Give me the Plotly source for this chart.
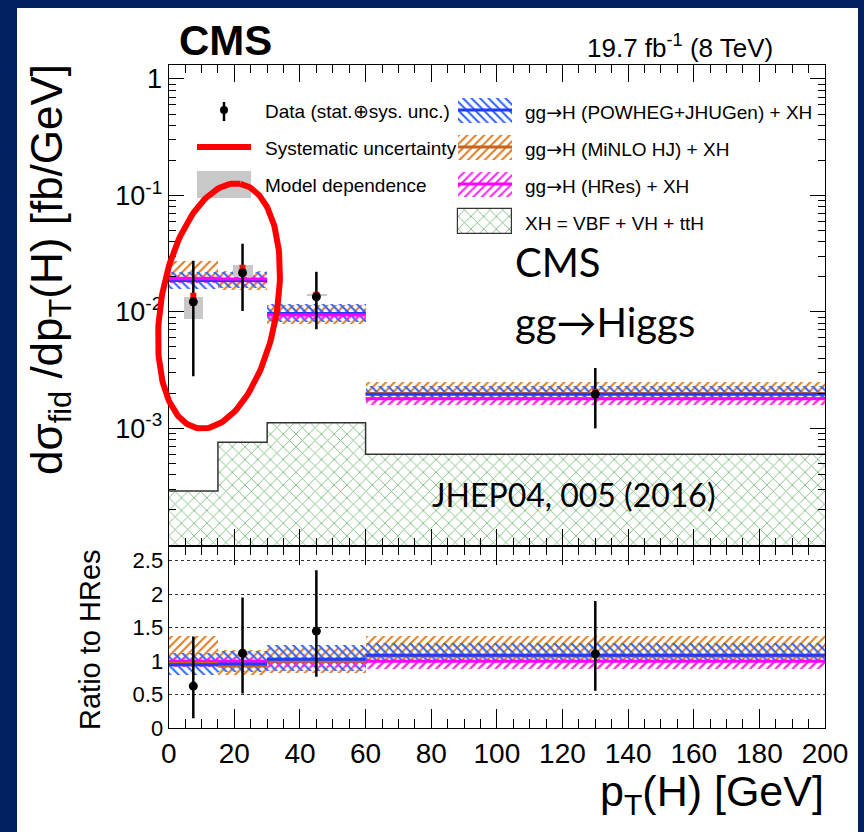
import numpy as np
import plotly.graph_objects as go

W, H = 864, 832

# ---------------- data ----------------
bin_edges = [0, 15, 30, 60, 200]

data_x = [7.5, 22.5, 45, 130]
data_y = [0.0122, 0.0217, 0.0135, 0.00196]
data_hi = [0.0275, 0.0385, 0.0221, 0.0033]
data_lo = [0.0028, 0.0102, 0.0071, 0.0010]
sys_hi = [0.0146, 0.0254, 0.0149, 0.00218]
sys_lo = [0.0113, 0.0209, 0.0132, 0.00201]
model_hi = [0.0135, 0.0254, 0.0143, 0.00205]
model_lo = [0.0087, 0.0200, 0.0138, 0.00190]
model_width = 6

powheg_c = [0.0186, 0.0186, 0.0097, 0.00196]
powheg_lo = [0.0158, 0.0160, 0.0082, 0.00175]
powheg_hi = [0.0221, 0.0222, 0.0118, 0.00231]
minlo_c = [0.0195, 0.0185, 0.0095, 0.00199]
minlo_lo = [0.0178, 0.0155, 0.0078, 0.00165]
minlo_hi = [0.0275, 0.0225, 0.0115, 0.00250]
hres_c = [0.0193, 0.0192, 0.0094, 0.00180]
hres_lo = [0.0178, 0.0177, 0.0086, 0.00158]
hres_hi = [0.0205, 0.0204, 0.0100, 0.00187]
xh_vals = [2.9e-4, 7.6e-4, 1.12e-3, 6.0e-4]

ratio_y = [0.63, 1.12, 1.45, 1.11]
ratio_hi = [1.37, 1.95, 2.36, 1.90]
ratio_lo = [0.15, 0.52, 0.77, 0.56]
r_powheg_c = [0.95, 0.96, 1.03, 1.09]
r_powheg_lo = [0.80, 0.84, 0.86, 1.00]
r_powheg_hi = [1.13, 1.15, 1.24, 1.27]
r_minlo_c = [0.97, 0.93, 1.00, 1.08]
r_minlo_lo = [0.92, 0.80, 0.82, 0.91]
r_minlo_hi = [1.38, 1.17, 1.20, 1.38]
r_hres_c = [1.0, 1.0, 1.0, 1.0]
r_hres_lo = [0.92, 0.92, 0.91, 0.88]
r_hres_hi = [1.06, 1.06, 1.06, 1.04]

top_tickvals = [1e-3, 1e-2, 1e-1, 1]
top_ticktext = ["10<sup>-3</sup>", "10<sup>-2</sup>", "10<sup>-1</sup>", "1"]
low_tickvals = [0, 0.5, 1, 1.5, 2, 2.5]
low_ticktext = ["0", "0.5", "1", "1.5", "2", "2.5"]
x_tickvals = [0, 20, 40, 60, 80, 100, 120, 140, 160, 180, 200]
x_ticktext = ["0", "20", "40", "60", "80", "100", "120", "140", "160", "180", "200"]

ARROW = "<span style='font-family:DejaVu Sans'>\u2192</span>"
legend_col1 = ["Data (stat.\u2295sys. unc.)", "Systematic uncertainty", "Model dependence"]
legend_col2 = ["gg" + ARROW + "H (POWHEG+JHUGen) + XH", "gg" + ARROW + "H (MiNLO HJ) + XH",
               "gg" + ARROW + "H (HRes) + XH", "XH = VBF + VH + ttH"]

# ---------------- styles ----------------
FONT = "Liberation Sans, Arial, Helvetica, sans-serif"
SLIDE_FONT = "Lato, Open Sans, sans-serif"
NAVY = "#002060"
BLUE_H, BLUE_L = "#2f5fff", "#1f3cff"
ORANGE_H, ORANGE_L = "#de7a1e", "#c8641e"
MAG_H, MAG_L = "#ff20ff", "#ff00ff"
GREEN_H = "#74b874"
GRAY = "#c8c8c8"

PLOT_L, PLOT_R = 168.7, 825.0
TOP_T, TOP_B = 65.0, 546.0
LOW_T, LOW_B = 546.0, 728.3
XDOM = [PLOT_L / W, PLOT_R / W]
TOPDOM = [1 - TOP_B / H, 1 - TOP_T / H]
LOWDOM = [1 - LOW_B / H, 1 - LOW_T / H]
TOP_RANGE = [-4.01, 0.12]
LOW_RANGE = [0, 2.72]
XH_BASE = 1e-6

lo_e = np.array(bin_edges[:-1], float)
hi_e = np.array(bin_edges[1:], float)
centers = (lo_e + hi_e) / 2
widths = hi_e - lo_e


def hatch(shape, color, size=6, sol=0.33):
    return dict(shape=shape, fgcolor=color, bgcolor="rgba(0,0,0,0)",
                size=size, solidity=sol, fillmode="replace")


def band(lo, hi, shape, color, xa, ya):
    lo = np.array(lo, float)
    hi = np.array(hi, float)
    return go.Bar(x=centers, y=hi - lo, base=lo, width=widths, xaxis=xa, yaxis=ya,
                  marker=dict(color="rgba(0,0,0,0)", line=dict(width=0),
                              pattern=hatch(shape, color)),
                  hoverinfo="skip")


def hsegs(vals, color, xa, ya, w=3):
    xs, ys = [], []
    for a, b, v in zip(lo_e, hi_e, vals):
        xs += [a, b, None]
        ys += [v, v, None]
    return go.Scatter(x=xs, y=ys, mode="lines", line=dict(color=color, width=w),
                      xaxis=xa, yaxis=ya, hoverinfo="skip")


def vsegs(xv, lo, hi, color, w, xa, ya):
    xs, ys = [], []
    for x, a, b in zip(xv, lo, hi):
        xs += [x, x, None]
        ys += [a, b, None]
    return go.Scatter(x=xs, y=ys, mode="lines", line=dict(color=color, width=w),
                      xaxis=xa, yaxis=ya, hoverinfo="skip")


fig = go.Figure()

# ---------------- top panel ----------------
fig.add_trace(go.Bar(x=centers, y=np.array(xh_vals) - XH_BASE, base=XH_BASE, width=widths,
                     xaxis="x", yaxis="y",
                     marker=dict(color="rgba(0,0,0,0)", line=dict(width=0),
                                 pattern=hatch("x", GREEN_H, size=9, sol=0.18))))
fig.add_trace(band(minlo_lo, minlo_hi, "/", ORANGE_H, "x", "y"))
fig.add_trace(band(powheg_lo, powheg_hi, "\\", BLUE_H, "x", "y"))
fig.add_trace(band(hres_lo, hres_hi, "/", MAG_H, "x", "y"))
fig.add_trace(go.Bar(x=data_x, y=np.array(model_hi) - np.array(model_lo), base=model_lo,
                     width=model_width, xaxis="x", yaxis="y",
                     marker=dict(color=GRAY, line=dict(width=0))))
fig.add_trace(go.Scatter(x=bin_edges, y=xh_vals + [xh_vals[-1]], mode="lines",
                         line=dict(color="#333333", width=1.5, shape="hv"),
                         xaxis="x", yaxis="y"))
fig.add_trace(hsegs(minlo_c, ORANGE_L, "x", "y"))
fig.add_trace(hsegs(powheg_c, BLUE_L, "x", "y"))
fig.add_trace(hsegs(hres_c, MAG_L, "x", "y"))
fig.add_trace(vsegs(data_x, data_lo, data_hi, "black", 2.5, "x", "y"))
fig.add_trace(vsegs(data_x, sys_lo, sys_hi, "#ff0000", 6, "x", "y"))
fig.add_trace(go.Scatter(x=data_x, y=data_y, mode="markers",
                         marker=dict(color="black", size=9), xaxis="x", yaxis="y"))

# ---------------- ratio panel ----------------
fig.add_trace(band(r_minlo_lo, r_minlo_hi, "/", ORANGE_H, "x2", "y2"))
fig.add_trace(band(r_powheg_lo, r_powheg_hi, "\\", BLUE_H, "x2", "y2"))
fig.add_trace(band(r_hres_lo, r_hres_hi, "/", MAG_H, "x2", "y2"))
fig.add_trace(hsegs(r_hres_c, MAG_L, "x2", "y2"))
fig.add_trace(hsegs(r_minlo_c, ORANGE_L, "x2", "y2"))
fig.add_trace(hsegs(r_powheg_c, BLUE_L, "x2", "y2"))
fig.add_trace(vsegs(data_x, ratio_lo, ratio_hi, "black", 2.5, "x2", "y2"))
fig.add_trace(go.Scatter(x=data_x, y=ratio_y, mode="markers",
                         marker=dict(color="black", size=9), xaxis="x2", yaxis="y2"))

# ---------------- legend (pixel-space overlay axes) ----------------
rows = [110, 147, 184, 221]
SW_X0, SW_X1 = 458, 512
C1_X0, C1_X1 = 197, 251
fig.add_trace(go.Scatter(x=[224, 224], y=[102, 121], mode="lines",
                         line=dict(color="black", width=2.5), xaxis="x3", yaxis="y3"))
fig.add_trace(go.Scatter(x=[224], y=[110], mode="markers",
                         marker=dict(color="black", size=8), xaxis="x3", yaxis="y3"))
fig.add_trace(go.Scatter(x=[C1_X0, C1_X1], y=[rows[1], rows[1]], mode="lines",
                         line=dict(color="#ff0000", width=6), xaxis="x3", yaxis="y3"))
fig.add_trace(go.Bar(x=[(C1_X0 + C1_X1) / 2], y=[27], base=[rows[2] - 13.5], width=C1_X1 - C1_X0,
                     marker=dict(color=GRAY, line=dict(width=0)), xaxis="x3", yaxis="y3"))
sw_specs = [("\\", BLUE_H, BLUE_L), ("/", ORANGE_H, ORANGE_L), ("/", MAG_H, MAG_L)]
for (shp, hc, lc), ry in zip(sw_specs, rows[:3]):
    fig.add_trace(go.Bar(x=[(SW_X0 + SW_X1) / 2], y=[25], base=[ry - 12.5], width=SW_X1 - SW_X0,
                         marker=dict(color="rgba(0,0,0,0)", line=dict(width=0),
                                     pattern=hatch(shp, hc)),
                         xaxis="x3", yaxis="y3"))
    fig.add_trace(go.Scatter(x=[SW_X0, SW_X1], y=[ry, ry], mode="lines",
                             line=dict(color=lc, width=3), xaxis="x3", yaxis="y3"))
fig.add_trace(go.Bar(x=[(SW_X0 + SW_X1) / 2], y=[25], base=[rows[3] - 12.5], width=SW_X1 - SW_X0,
                     marker=dict(color="rgba(0,0,0,0)", line=dict(width=1.2, color="#333333"),
                                 pattern=hatch("x", GREEN_H, size=9, sol=0.18)),
                     xaxis="x3", yaxis="y3"))

# red highlight ellipse drawn on the slide
t = np.linspace(0, 2 * np.pi, 200)
th = np.deg2rad(9.9)
ea, eb, ecx, ecy = 124, 58, 219, 306
ex = ecx + ea * np.cos(t) * np.sin(th) + eb * np.sin(t) * np.cos(th)
ey = ecy - ea * np.cos(t) * np.cos(th) + eb * np.sin(t) * np.sin(th)
fig.add_trace(go.Scatter(x=ex, y=ey, mode="lines", line=dict(color="#ff0000", width=6),
                         xaxis="x3", yaxis="y3"))

# ---------------- annotations ----------------
ann = []


def text(x, y, s, size, xanchor="left", family=FONT, angle=0, yanchor="middle"):
    ann.append(dict(x=x, y=y, xref="x3", yref="y3", text=s, showarrow=False,
                    xanchor=xanchor, yanchor=yanchor, textangle=angle,
                    font=dict(family=family, size=size, color="black")))


text(177, 40, "<b>CMS</b>", 42)
text(775, 46, "19.7 fb<sup>-1</sup> (8 TeV)", 26, xanchor="right")
for s, ry in zip(legend_col1, rows):
    text(263, ry + 1, s, 19)
for s, ry in zip(legend_col2, rows):
    text(523, ry + 2, s, 19)
text(513, 262, "CMS", 40, family=SLIDE_FONT)
text(513, 322, "gg\u2192Higgs", 40, family=SLIDE_FONT)
text(430, 494, "JHEP04, 005 (2016)", 32, family=SLIDE_FONT)
text(50, 270, "d\u03c3<sub>fid</sub> /dp<sub>T</sub>(H) [fb/GeV]", 44, xanchor="center", angle=-90)
text(90, 640, "Ratio to HRes", 29, xanchor="center", angle=-90)
text(826, 794, "p<sub>T</sub>(H) [GeV]", 43, xanchor="right")

# ---------------- axes ----------------
minor_x = dict(tickmode="array", tickvals=[v for v in range(0, 201, 5) if v % 20],
               ticks="inside", tickcolor="black", tickwidth=1.2, showgrid=False)
log_minor = [m * 10.0 ** k for k in range(-5, 1) for m in range(2, 10)]

common_x = dict(domain=XDOM, range=[0, 200], showline=True, linecolor="black", linewidth=1.3,
                mirror="allticks", ticks="inside", tickcolor="black", tickwidth=1.2,
                tickmode="array", tickvals=x_tickvals, ticktext=x_ticktext,
                showgrid=False, zeroline=False, automargin=False)

fig.update_layout(
    template="none",
    width=W, height=H, autosize=False,
    margin=dict(l=0, r=0, t=0, b=0, pad=0),
    paper_bgcolor=NAVY, plot_bgcolor="rgba(0,0,0,0)",
    showlegend=False, barmode="overlay", bargap=0,
    font=dict(family=FONT, color="black"),
    xaxis=dict(common_x, anchor="y", showticklabels=False, ticklen=17,
               minor=dict(minor_x, ticklen=8)),
    yaxis=dict(domain=TOPDOM, type="log", range=TOP_RANGE, anchor="x",
               showline=True, linecolor="black", linewidth=1.3, mirror="allticks",
               ticks="inside", ticklen=15, tickcolor="black", tickwidth=1.2,
               tickmode="array", tickvals=top_tickvals, ticktext=top_ticktext,
               tickfont=dict(size=27, color="black"), showgrid=False, zeroline=False,
               automargin=False,
               minor=dict(tickmode="array", tickvals=log_minor, ticks="inside", ticklen=7,
                          tickcolor="black", tickwidth=1.2, showgrid=False)),
    xaxis2=dict(common_x, anchor="y2", ticklen=19, tickfont=dict(size=28, color="black"),
                minor=dict(minor_x, ticklen=9)),
    yaxis2=dict(domain=LOWDOM, range=LOW_RANGE, anchor="x2",
                showline=True, linecolor="black", linewidth=1.3, mirror=True,
                ticks="", tickmode="array", tickvals=low_tickvals, ticktext=low_ticktext,
                tickfont=dict(size=22, color="black"), showgrid=True, gridcolor="#333333",
                griddash="dot", gridwidth=1, zeroline=False, automargin=False),
    xaxis3=dict(domain=[0, 1], range=[0, W], visible=False, anchor="y3", fixedrange=True),
    yaxis3=dict(domain=[0, 1], range=[H, 0], visible=False, anchor="x3", fixedrange=True),
    annotations=ann,
    shapes=[dict(type="rect", xref="paper", yref="paper", x0=17 / W, x1=858 / W,
                 y0=0, y1=1 - 8 / H, fillcolor="white", line=dict(width=0), layer="below")],
)

fig.write_html("out.html", config={"responsive": False, "displayModeBar": False},
               post_script="document.body.style.margin='0px';document.body.style.overflow='hidden';")
